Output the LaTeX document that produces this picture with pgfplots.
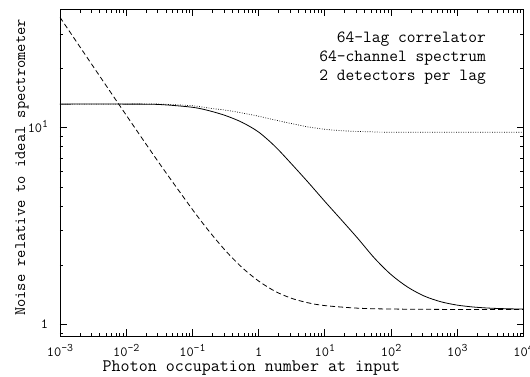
\documentclass[border=0pt]{standalone}
\usepackage{fontspec}
\usepackage{pgfplots}
\pgfplotsset{compat=1.18}
\newcommand{\tl}[1]{10\raisebox{4.5pt}{\fontsize{11.5}{11.5}\selectfont #1}}
\begin{document}
\begin{tikzpicture}
\begin{axis}[
 at={(60pt,41pt)}, anchor=south west,
 scale only axis, width=463.5pt, height=326.5pt,
 xmode=log, ymode=log,
 xmin=1e-3, xmax=1e4, ymin=0.872, ymax=40,
 xtick={0.001,0.01,0.1,1,10,100,1000,10000},
 xticklabels={\tl{-3},\tl{-2},\tl{-1},1,\tl{1},\tl{2},\tl{3},\tl{4}},
 minor xtick={0.002,0.003,0.004,0.005,0.006,0.007,0.008,0.009,
  0.02,0.03,0.04,0.05,0.06,0.07,0.08,0.09,
  0.2,0.3,0.4,0.5,0.6,0.7,0.8,0.9,
  2,3,4,5,6,7,8,9,
  20,30,40,50,60,70,80,90,
  200,300,400,500,600,700,800,900,
  2000,3000,4000,5000,6000,7000,8000,9000},
 ytick={1,10}, yticklabels={1,\tl{1}},
 minor ytick={0.9,2,3,4,5,6,7,8,9,20,30},
 tick align=inside,
 major tick length=7pt, minor tick length=3.5pt,
 every tick/.style={black, line width=0.8pt},
 axis line style={line width=0.9pt},
 tick label style={font=\ttfamily\fontsize{14}{14}\selectfont, inner sep=0pt},
 xticklabel style={anchor=base, yshift=-20.3pt},
 yticklabel style={anchor=base east, xshift=-11.7pt, yshift=-4.3pt},
 xlabel={Photon occupation number at input},
 ylabel={Noise relative to ideal spectrometer},
 xlabel style={at={(axis description cs:0.413,-0.109)}, anchor=base, font=\ttfamily\fontsize{17.5}{17.5}\selectfont, inner sep=0pt},
 ylabel style={at={(axis description cs:-0.0755,0.516)}, anchor=base, font=\ttfamily\fontsize{16}{16}\selectfont, inner sep=0pt},
]
% solid
\addplot[black, line width=0.8pt, smooth, mark=none] coordinates {
(0.001,13.2) (0.01,13.2) (0.03162,13.14) (0.1,12.72) (0.1778,12.22) (0.3162,11.54)
(0.5623,10.66) (1,9.51) (1.778,8.03) (3.162,6.53) (5.623,5.27) (10,4.22)
(17.78,3.40) (31.62,2.73) (56.23,2.17) (100,1.79) (177.8,1.547) (316.2,1.393)
(562.3,1.303) (1000,1.252) (1778,1.224) (3162,1.208) (5623,1.200) (10000,1.195)
};
% dotted
\addplot[black, line width=0.7pt, dash pattern=on 0.8pt off 1.6pt, smooth, mark=none] coordinates {
(0.001,13.2) (0.01,13.2) (0.03162,13.2) (0.1,12.95) (0.1778,12.6) (0.3162,12.3)
(0.5623,11.9) (1,11.45) (1.778,10.95) (3.162,10.5) (5.623,10.1) (10,9.83)
(17.78,9.67) (31.62,9.58) (56.23,9.53) (100,9.5) (10000,9.5)
};
% dashed
\addplot[black, line width=0.8pt, dash pattern=on 5pt off 3pt, smooth, mark=none] coordinates {
(0.001,36.5) (0.00316,20.55) (0.01,11.6) (0.0316,6.60) (0.1,3.84) (0.178,2.98)
(0.316,2.37) (0.562,1.945) (1,1.66) (1.78,1.471) (3.16,1.355) (5.62,1.286)
(10,1.245) (31.6,1.208) (100,1.196) (1000,1.19) (10000,1.19)
};
\node[anchor=base east, font=\ttfamily\fontsize{17}{17}\selectfont, inner sep=0pt] at (axis description cs:0.919,0.899) {64-lag correlator};
\node[anchor=base east, font=\ttfamily\fontsize{17}{17}\selectfont, inner sep=0pt] at (axis description cs:0.919,0.842) {64-channel spectrum};
\node[anchor=base east, font=\ttfamily\fontsize{17}{17}\selectfont, inner sep=0pt] at (axis description cs:0.919,0.7825) {2 detectors per lag};
\end{axis}
\pgfresetboundingbox
\path[use as bounding box] (0,0) rectangle (530pt,377pt);
\end{tikzpicture}
\end{document}
